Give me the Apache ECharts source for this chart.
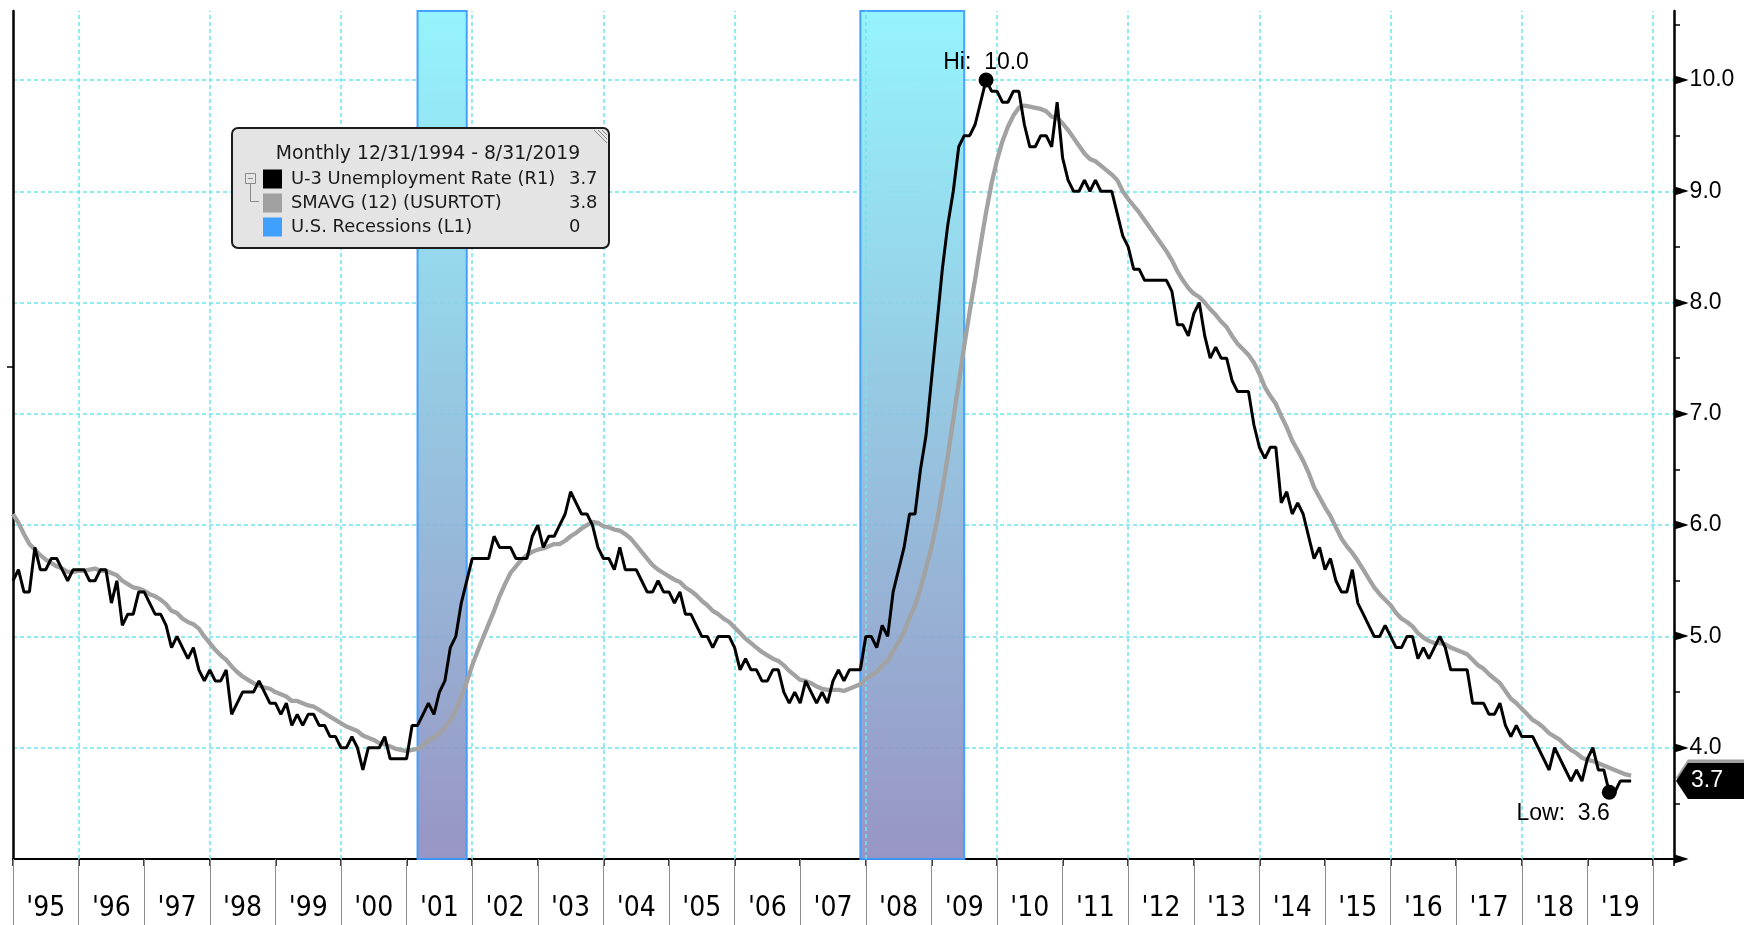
<!DOCTYPE html>
<html>
<head>
<meta charset="UTF-8">
<title>U-3 Unemployment Rate</title>
<style>
  html, body { margin: 0; padding: 0; background: #fff; }
  #chart { width: 1753px; height: 925px; }
</style>
<script src="https://cdn.jsdelivr.net/npm/echarts@6/dist/echarts.min.js"></script>
</head>
<body>
<div id="chart"></div>
<script>
// U-3 unemployment rate, monthly, first point 12/31/1994, last 8/31/2019
const u3 = [
  5.5,                                                            // 1994-12
  5.6, 5.4, 5.4, 5.8, 5.6, 5.6, 5.7, 5.7, 5.6, 5.5, 5.6, 5.6,     // 1995
  5.6, 5.5, 5.5, 5.6, 5.6, 5.3, 5.5, 5.1, 5.2, 5.2, 5.4, 5.4,     // 1996
  5.3, 5.2, 5.2, 5.1, 4.9, 5.0, 4.9, 4.8, 4.9, 4.7, 4.6, 4.7,     // 1997
  4.6, 4.6, 4.7, 4.3, 4.4, 4.5, 4.5, 4.5, 4.6, 4.5, 4.4, 4.4,     // 1998
  4.3, 4.4, 4.2, 4.3, 4.2, 4.3, 4.3, 4.2, 4.2, 4.1, 4.1, 4.0,     // 1999
  4.0, 4.1, 4.0, 3.8, 4.0, 4.0, 4.0, 4.1, 3.9, 3.9, 3.9, 3.9,     // 2000
  4.2, 4.2, 4.3, 4.4, 4.3, 4.5, 4.6, 4.9, 5.0, 5.3, 5.5, 5.7,     // 2001
  5.7, 5.7, 5.7, 5.9, 5.8, 5.8, 5.8, 5.7, 5.7, 5.7, 5.9, 6.0,     // 2002
  5.8, 5.9, 5.9, 6.0, 6.1, 6.3, 6.2, 6.1, 6.1, 6.0, 5.8, 5.7,     // 2003
  5.7, 5.6, 5.8, 5.6, 5.6, 5.6, 5.5, 5.4, 5.4, 5.5, 5.4, 5.4,     // 2004
  5.3, 5.4, 5.2, 5.2, 5.1, 5.0, 5.0, 4.9, 5.0, 5.0, 5.0, 4.9,     // 2005
  4.7, 4.8, 4.7, 4.7, 4.6, 4.6, 4.7, 4.7, 4.5, 4.4, 4.5, 4.4,     // 2006
  4.6, 4.5, 4.4, 4.5, 4.4, 4.6, 4.7, 4.6, 4.7, 4.7, 4.7, 5.0,     // 2007
  5.0, 4.9, 5.1, 5.0, 5.4, 5.6, 5.8, 6.1, 6.1, 6.5, 6.8, 7.3,     // 2008
  7.8, 8.3, 8.7, 9.0, 9.4, 9.5, 9.5, 9.6, 9.8, 10.0, 9.9, 9.9,    // 2009
  9.8, 9.8, 9.9, 9.9, 9.6, 9.4, 9.4, 9.5, 9.5, 9.4, 9.8, 9.3,     // 2010
  9.1, 9.0, 9.0, 9.1, 9.0, 9.1, 9.0, 9.0, 9.0, 8.8, 8.6, 8.5,     // 2011
  8.3, 8.3, 8.2, 8.2, 8.2, 8.2, 8.2, 8.1, 7.8, 7.8, 7.7, 7.9,     // 2012
  8.0, 7.7, 7.5, 7.6, 7.5, 7.5, 7.3, 7.2, 7.2, 7.2, 6.9, 6.7,     // 2013
  6.6, 6.7, 6.7, 6.2, 6.3, 6.1, 6.2, 6.1, 5.9, 5.7, 5.8, 5.6,     // 2014
  5.7, 5.5, 5.4, 5.4, 5.6, 5.3, 5.2, 5.1, 5.0, 5.0, 5.1, 5.0,     // 2015
  4.9, 4.9, 5.0, 5.0, 4.8, 4.9, 4.8, 4.9, 5.0, 4.9, 4.7, 4.7,     // 2016
  4.7, 4.7, 4.4, 4.4, 4.4, 4.3, 4.3, 4.4, 4.2, 4.1, 4.2, 4.1,     // 2017
  4.1, 4.1, 4.0, 3.9, 3.8, 4.0, 3.9, 3.8, 3.7, 3.8, 3.7, 3.9,     // 2018
  4.0, 3.8, 3.8, 3.6, 3.6, 3.7, 3.7, 3.7                          // 2019
];

// SMAVG (12) of USURTOT, same months
const smavg12 = [
  6.10,
  6.02, 5.92, 5.83, 5.78, 5.73, 5.69, 5.66, 5.63, 5.61, 5.58, 5.58, 5.59,   // 1995
  5.59, 5.60, 5.61, 5.59, 5.59, 5.57, 5.55, 5.50, 5.47, 5.44, 5.43, 5.41,   // 1996
  5.38, 5.36, 5.33, 5.29, 5.23, 5.21, 5.16, 5.13, 5.11, 5.07, 5.00, 4.94,   // 1997
  4.88, 4.83, 4.79, 4.73, 4.68, 4.64, 4.61, 4.58, 4.56, 4.54, 4.53, 4.50,   // 1998
  4.48, 4.46, 4.42, 4.42, 4.40, 4.38, 4.37, 4.34, 4.31, 4.28, 4.25, 4.22,   // 1999
  4.19, 4.17, 4.15, 4.11, 4.09, 4.07, 4.04, 4.03, 4.01, 3.99, 3.98, 3.97,   // 2000
  3.98, 3.99, 4.02, 4.07, 4.09, 4.13, 4.18, 4.25, 4.34, 4.46, 4.59, 4.74,   // 2001
  4.87, 4.99, 5.11, 5.23, 5.36, 5.47, 5.57, 5.63, 5.69, 5.73, 5.76, 5.78,   // 2002
  5.79, 5.81, 5.83, 5.83, 5.86, 5.90, 5.93, 5.97, 6.00, 6.03, 6.02, 5.99,   // 2003
  5.98, 5.96, 5.95, 5.92, 5.88, 5.82, 5.76, 5.70, 5.64, 5.60, 5.57, 5.54,   // 2004
  5.51, 5.49, 5.44, 5.41, 5.37, 5.32, 5.28, 5.23, 5.20, 5.16, 5.13, 5.08,   // 2005
  5.03, 4.98, 4.94, 4.90, 4.86, 4.83, 4.80, 4.78, 4.74, 4.69, 4.65, 4.61,   // 2006
  4.60, 4.58, 4.55, 4.53, 4.52, 4.52, 4.52, 4.51, 4.53, 4.55, 4.57, 4.62,   // 2007
  4.65, 4.68, 4.74, 4.78, 4.87, 4.95, 5.04, 5.17, 5.28, 5.43, 5.61, 5.80,   // 2008
  6.03, 6.32, 6.62, 6.95, 7.28, 7.61, 7.92, 8.21, 8.52, 8.81, 9.07, 9.28,   // 2009
  9.45, 9.58, 9.68, 9.75, 9.77, 9.76, 9.75, 9.74, 9.72, 9.67, 9.66, 9.61,   // 2010
  9.55, 9.48, 9.41, 9.34, 9.29, 9.27, 9.23, 9.19, 9.15, 9.10, 9.00, 8.93,   // 2011
  8.87, 8.81, 8.74, 8.67, 8.60, 8.53, 8.46, 8.38, 8.28, 8.20, 8.13, 8.08,   // 2012
  8.05, 8.00, 7.94, 7.89, 7.83, 7.78, 7.70, 7.63, 7.58, 7.53, 7.46, 7.36,   // 2013
  7.24, 7.16, 7.09, 6.98, 6.88, 6.76, 6.67, 6.58, 6.47, 6.34, 6.25, 6.16,   // 2014
  6.08, 5.98, 5.88, 5.81, 5.75, 5.68, 5.60, 5.52, 5.44, 5.38, 5.33, 5.28,   // 2015
  5.21, 5.16, 5.13, 5.09, 5.03, 4.99, 4.96, 4.94, 4.94, 4.93, 4.90, 4.88,   // 2016
  4.86, 4.84, 4.79, 4.74, 4.71, 4.66, 4.62, 4.58, 4.51, 4.44, 4.40, 4.35,   // 2017
  4.30, 4.25, 4.22, 4.18, 4.13, 4.10, 4.07, 4.02, 3.98, 3.95, 3.91, 3.89,   // 2018
  3.88, 3.86, 3.84, 3.82, 3.80, 3.78, 3.76, 3.75                            // 2019
];

// U.S. recessions (first month, last month)
const recessions = [['2001-03', '2001-11'], ['2007-12', '2009-06']];

// year boundaries on the time axis, the labels between them, and the years that get a grid line
const yearTicks = [1995, 1996, 1997, 1998, 1999, 2000, 2001, 2002, 2003, 2004, 2005, 2006, 2007,
                   2008, 2009, 2010, 2011, 2012, 2013, 2014, 2015, 2016, 2017, 2018, 2019, 2020];
const yearLabels = ["'95", "'96", "'97", "'98", "'99", "'00", "'01", "'02", "'03", "'04", "'05", "'06", "'07",
                    "'08", "'09", "'10", "'11", "'12", "'13", "'14", "'15", "'16", "'17", "'18", "'19"];
const gridYears = [1996, 1998, 2000, 2002, 2004, 2006, 2008, 2010, 2012, 2014, 2016, 2018, 2020];

const firstX = 1995;      // 12/31/1994 sits on the start of 1995
const xMax = 2020.32;
const yMin = 3, yMax = 10.62;

const xs = u3.map((v, i) => firstX + i / 12);
const u3Data = u3.map((v, i) => [xs[i], v]);
const smaData = smavg12.map((v, i) => [xs[i], v]);
const lastU3 = u3[u3.length - 1];
const lastSma = smavg12[smavg12.length - 1];

function monthStart(s) { const [y, m] = s.split('-').map(Number); return y + (m - 1) / 12; }
function monthEnd(s) { const [y, m] = s.split('-').map(Number); return y + m / 12; }

const CYAN = '#6fe5eb';
const NUM_FONT = '"Liberation Sans", Arial, sans-serif';
const LEG_FONT = '"DejaVu Sans", Verdana, sans-serif';
const NARROW = '"Liberation Sans Narrow", "DejaVu Sans Condensed", "Roboto Condensed", "Liberation Sans", sans-serif';

const tagPath = 'path://M0,20L14,0L80,0L80,40L14,40Z';

// legend box text rows
const legendRows = [
  { name: 'U-3 Unemployment Rate (R1)', color: '#000000', value: lastU3.toFixed(1) },
  { name: 'SMAVG (12) (USURTOT)', color: '#a0a0a0', value: lastSma.toFixed(1) },
  { name: 'U.S. Recessions (L1)', color: '#3fa0ff', value: '0' }
];

const legendChildren = [
  { type: 'rect', shape: { x: 0, y: 0, width: 377, height: 120, r: 6 },
    style: { fill: '#e4e4e4', stroke: '#1c1c1c', lineWidth: 2 } },
  { type: 'line', shape: { x1: 362, y1: 2, x2: 375, y2: 15 }, style: { stroke: '#8a8a8a', lineWidth: 1 } },
  { type: 'line', shape: { x1: 366, y1: 2, x2: 375, y2: 11 }, style: { stroke: '#8a8a8a', lineWidth: 1 } },
  { type: 'line', shape: { x1: 370, y1: 2, x2: 375, y2: 7 }, style: { stroke: '#8a8a8a', lineWidth: 1 } },
  { type: 'text', style: { text: 'Monthly 12/31/1994 - 8/31/2019', x: 196, y: 26,
    textAlign: 'center', textVerticalAlign: 'middle', align: 'center', verticalAlign: 'middle',
    font: '18.8px ' + LEG_FONT, fill: '#1a1a1a' } },
  // tree icon
  { type: 'rect', shape: { x: 13.5, y: 45.5, width: 10, height: 10 }, style: { fill: '#e4e4e4', stroke: '#8a8a8a', lineWidth: 1 } },
  { type: 'line', shape: { x1: 16, y1: 50.5, x2: 21, y2: 50.5 }, style: { stroke: '#8a8a8a', lineWidth: 1 } },
  { type: 'polyline', shape: { points: [[18.5, 56], [18.5, 73.5], [27, 73.5]] }, style: { stroke: '#8a8a8a', lineWidth: 1, fill: null } }
];
legendRows.forEach((r, i) => {
  const cy = 51 + i * 24;
  legendChildren.push(
    { type: 'rect', shape: { x: 31, y: cy - 9.5, width: 19, height: 19 }, style: { fill: r.color } },
    { type: 'text', style: { text: r.name, x: 59, y: cy, textVerticalAlign: 'middle', verticalAlign: 'middle',
      font: '17.9px ' + LEG_FONT, fill: '#1a1a1a' } },
    { type: 'text', style: { text: r.value, x: 337, y: cy, textVerticalAlign: 'middle', verticalAlign: 'middle',
      font: '17.9px ' + LEG_FONT, fill: '#1a1a1a' } }
  );
});
legendChildren.forEach(c => { c.z = 100; });

const chart = echarts.init(document.getElementById('chart'));

chart.setOption({
  animation: false,
  backgroundColor: '#ffffff',
  grid: { left: 13, right: 79, top: 11, bottom: 66, containLabel: false, outerBoundsMode: 'none' },
  xAxis: [
    {
      type: 'value', min: firstX, max: xMax, interval: 1, position: 'bottom',
      axisLine: { onZero: false, lineStyle: { color: '#000', width: 2 } },
      axisTick: { length: 7, lineStyle: { color: '#000', width: 1.5 } },
      axisLabel: { show: false },
      splitLine: { show: false }
    },
    {
      type: 'value', min: firstX, max: xMax, interval: 1, position: 'bottom',
      axisLine: { show: false, onZero: false },
      axisTick: { length: 66, customValues: yearTicks, lineStyle: { color: '#8c8c8c', width: 1 } },
      axisLabel: {
        customValues: yearTicks.slice(0, -1).map(y => y + 0.5),
        formatter: v => yearLabels[Math.floor(v) - yearTicks[0]],
        margin: 36, fontSize: 28, fontFamily: NARROW, color: '#000'
      },
      splitLine: { show: false }
    }
  ],
  yAxis: [
    {
      type: 'value', position: 'right', min: yMin, max: yMax, interval: 0.5,
      axisLine: { show: true, onZero: false, lineStyle: { color: '#000', width: 2.5 } },
      axisTick: { show: true, length: 6, lineStyle: { color: '#000', width: 1.5 } },
      axisLabel: {
        margin: 0, showMaxLabel: false,
        formatter: v => {
          if (Math.abs(v - Math.round(v)) > 1e-6) return '';
          if (Math.round(v) === yMin) return '{t|\u25BA}';
          return '{t|\u25BA}{v|' + v.toFixed(1) + '}';
        },
        rich: {
          t: { fontFamily: '"DejaVu Sans"', fontSize: 19, color: '#000' },
          v: { fontFamily: NUM_FONT, fontSize: 23, color: '#000', padding: [0, 0, 0, 1] }
        }
      },
      splitLine: { show: true, showMaxLine: false, lineStyle: { color: [CYAN, 'transparent'], type: [4, 3], width: 1.5 } }
    },
    {
      type: 'value', position: 'left', min: 0, max: 1,
      axisLine: { show: true, onZero: false, lineStyle: { color: '#000', width: 2.5 } },
      axisTick: { show: true, customValues: [0.58], length: 6, lineStyle: { color: '#000', width: 1.5 } },
      axisLabel: { show: false },
      splitLine: { show: false }
    }
  ],
  series: [
    {
      name: 'SMAVG (12) (USURTOT)', type: 'line', data: smaData, symbol: 'none', z: 10,
      lineStyle: { color: '#a2a2a2', width: 4.3 },
      // vertical grid, every second year
      markLine: {
        silent: true, symbol: 'none', animation: false,
        label: { show: false },
        lineStyle: { color: CYAN, type: [4, 3], width: 1.5 },
        emphasis: { disabled: true },
        data: gridYears.map(y => ({ xAxis: y }))
      }
    },
    {
      name: 'U-3 Unemployment Rate (R1)', type: 'line', data: u3Data, symbol: 'none', z: 11,
      lineStyle: { color: '#000', width: 3 },
      markArea: {
        silent: true,
        itemStyle: {
          color: new echarts.graphic.LinearGradient(0, 0, 0, 1, [
            { offset: 0, color: '#8df3fc' },
            { offset: 1, color: '#908dbf' }
          ]),
          opacity: 0.93,
          borderColor: '#3b9bff', borderWidth: 2
        },
        data: recessions.map(([a, b]) => [{ xAxis: monthStart(a) }, { xAxis: monthEnd(b) }])
      },
      markPoint: {
        silent: true,
        data: [
          {
            type: 'max', symbol: 'circle', symbolSize: 15, itemStyle: { color: '#000' },
            label: {
              show: true, formatter: p => 'Hi:  ' + p.value.toFixed(1), position: [7.5, -10],
              align: 'center', verticalAlign: 'middle', color: '#000', fontSize: 23, fontFamily: NUM_FONT
            }
          },
          {
            type: 'min', symbol: 'circle', symbolSize: 15, itemStyle: { color: '#000' },
            label: {
              show: true, formatter: p => 'Low:  ' + p.value.toFixed(1), position: [8, 29],
              align: 'right', verticalAlign: 'middle', color: '#000', fontSize: 23, fontFamily: NUM_FONT
            }
          },
          {
            coord: [xMax, lastU3], symbol: tagPath, symbolSize: [68, 36], symbolOffset: [36, -3.5],
            itemStyle: { color: '#a0a0a0' }, label: { show: false }
          },
          {
            coord: [xMax, lastU3], symbol: tagPath, symbolSize: [68, 36], symbolOffset: [36, 0],
            itemStyle: { color: '#000' },
            label: {
              show: true, position: 'inside', offset: [-3, 0], formatter: lastU3.toFixed(1),
              color: '#fff', fontSize: 23, fontFamily: NUM_FONT
            }
          }
        ]
      }
    }
  ],
  graphic: [
    { type: 'group', left: 231, top: 127, z: 100, children: legendChildren }
  ]
});
</script>
</body>
</html>
